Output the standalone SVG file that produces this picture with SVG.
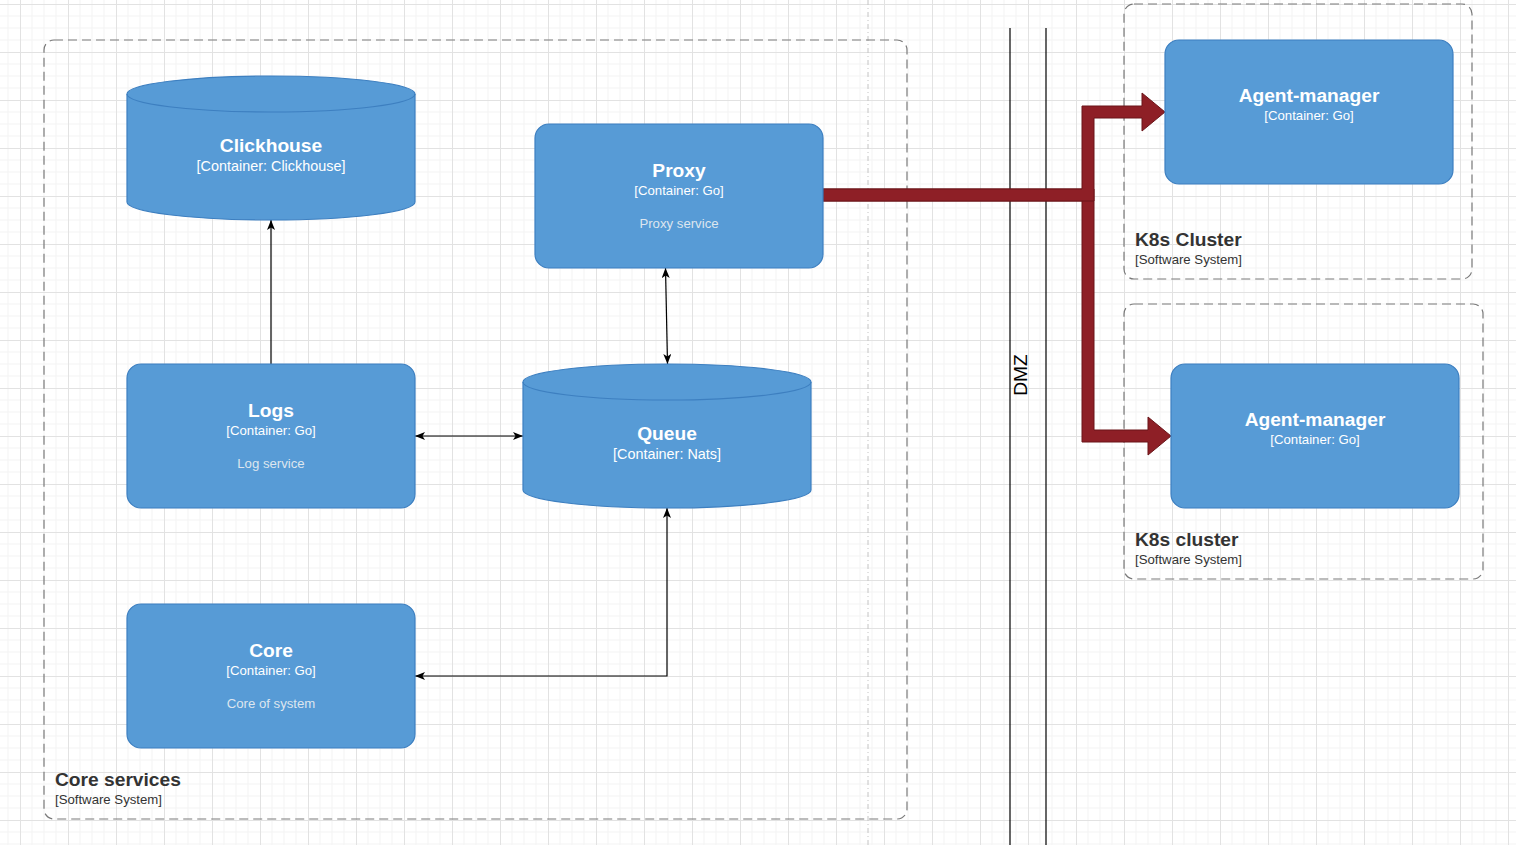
<svg xmlns="http://www.w3.org/2000/svg" width="1516" height="845" viewBox="0 0 1516 845">
<defs>
<pattern id="grid" patternUnits="userSpaceOnUse" x="20" y="4" width="48" height="48">
<path d="M12,0V48M24,0V48M36,0V48M0,12H48M0,24H48M0,36H48" stroke="#f3f3f3" stroke-width="1" fill="none"/>
<path d="M0.5,0V48M0,0.5H48" stroke="#e2e2e2" stroke-width="1" fill="none"/>
</pattern>
<marker id="arr" markerUnits="userSpaceOnUse" markerWidth="10" markerHeight="8" refX="10" refY="4" orient="auto-start-reverse" viewBox="0 0 10 8">
<path d="M0,0 L10,4 L0,8 L2.5,4 Z" fill="#000"/>
</marker>
</defs>
<style>
.box{fill:#579BD6;stroke:#3D7FC0;stroke-width:1.2}
.sys{fill:none;stroke:#7a7a7a;stroke-width:1.2;stroke-dasharray:9 5}
.t{font-family:"Liberation Sans",Arial,sans-serif;fill:#fff;text-anchor:middle}
.tt{font-size:19.2px;font-weight:bold}
.tc{font-size:14.4px}
.tg{font-size:13.2px}
.td{font-size:13.2px;fill:#dde6ef}
.lb{font-family:"Liberation Sans",Arial,sans-serif;fill:#333}
.lt{font-size:19.2px;font-weight:bold}
.ls{font-size:13.2px}
.c{fill:none;stroke:#000;stroke-width:1.2}
.flex{fill:#8E1F26;stroke:#6A1519;stroke-width:1}
</style>
<rect width="1516" height="845" fill="#fff"/>
<rect width="1516" height="845" fill="url(#grid)"/>
<line x1="868" y1="0" x2="868" y2="845" stroke="#c4c4c4" stroke-width="1" stroke-dasharray="5 3 1 3"/>

<g id="dmz">
<line x1="1010" y1="28" x2="1010" y2="845" stroke="#000" stroke-width="1.2"/>
<line x1="1046" y1="28" x2="1046" y2="845" stroke="#000" stroke-width="1.2"/>
<text transform="translate(1027,375) rotate(-90)" font-family="Liberation Sans,Arial,sans-serif" font-size="19.2" text-anchor="middle" fill="#000">DMZ</text>
</g>

<g id="core-services">
<rect class="sys" x="44" y="40" width="863" height="779" rx="10"/>
<text class="lb lt" x="55" y="786">Core services</text>
<text class="lb ls" x="55" y="804">[Software System]</text>
</g>
<g id="k8s-cluster-1">
<rect class="sys" x="1124" y="4" width="348" height="275" rx="10"/>
<text class="lb lt" x="1135" y="246">K8s Cluster</text>
<text class="lb ls" x="1135" y="264">[Software System]</text>
</g>
<g id="k8s-cluster-2">
<rect class="sys" x="1124" y="304" width="359" height="275" rx="10"/>
<text class="lb lt" x="1135" y="546">K8s cluster</text>
<text class="lb ls" x="1135" y="564">[Software System]</text>
</g>

<g id="connectors">
<path class="c" d="M271,364 L271,220" marker-end="url(#arr)"/>
<path class="c" d="M665.5,268 L667.5,364" marker-start="url(#arr)" marker-end="url(#arr)"/>
<path class="c" d="M415,436 L523,436" marker-start="url(#arr)" marker-end="url(#arr)"/>
<path class="c" d="M667,508 L667,676 L415,676" marker-start="url(#arr)" marker-end="url(#arr)"/>
<path class="flex" d="M823,189 L1094,189 L1094,430 L1148,430 L1148,417 L1171,436 L1148,455 L1148,442 L1082,442 L1082,201 L823,201 Z"/>
<path class="flex" d="M823,189 L1082,189 L1082,106 L1142,106 L1142,93 L1165,112 L1142,131 L1142,118 L1094,118 L1094,201 L823,201 Z"/>
</g>

<g id="clickhouse">
<path class="box" d="M127,94 A144,18 0 0 1 415,94 L415,202 A144,18 0 0 1 127,202 Z"/>
<path class="box" style="fill:none" d="M127,94 A144,18 0 0 0 415,94"/>
<text class="t tt" x="271" y="152">Clickhouse</text>
<text class="t tc" x="271" y="171">[Container: Clickhouse]</text>
</g>

<g id="proxy">
<rect class="box" x="535" y="124" width="288" height="144" rx="14"/>
<text class="t tt" x="679" y="177">Proxy</text>
<text class="t tg" x="679" y="195">[Container: Go]</text>
<text class="t td" x="679" y="228">Proxy service</text>
</g>

<g id="logs">
<rect class="box" x="127" y="364" width="288" height="144" rx="14"/>
<text class="t tt" x="271" y="417">Logs</text>
<text class="t tg" x="271" y="435">[Container: Go]</text>
<text class="t td" x="271" y="468">Log service</text>
</g>

<g id="queue">
<path class="box" d="M523,382 A144,18 0 0 1 811,382 L811,490 A144,18 0 0 1 523,490 Z"/>
<path class="box" style="fill:none" d="M523,382 A144,18 0 0 0 811,382"/>
<text class="t tt" x="667" y="440">Queue</text>
<text class="t tc" x="667" y="459">[Container: Nats]</text>
</g>

<g id="core">
<rect class="box" x="127" y="604" width="288" height="144" rx="14"/>
<text class="t tt" x="271" y="657">Core</text>
<text class="t tg" x="271" y="675">[Container: Go]</text>
<text class="t td" x="271" y="708">Core of system</text>
</g>

<g id="agent-manager-1">
<rect class="box" x="1165" y="40" width="288" height="144" rx="14"/>
<text class="t tt" x="1309" y="102">Agent-manager</text>
<text class="t tg" x="1309" y="120">[Container: Go]</text>
</g>

<g id="agent-manager-2">
<rect class="box" x="1171" y="364" width="288" height="144" rx="14"/>
<text class="t tt" x="1315" y="426">Agent-manager</text>
<text class="t tg" x="1315" y="444">[Container: Go]</text>
</g>
</svg>
